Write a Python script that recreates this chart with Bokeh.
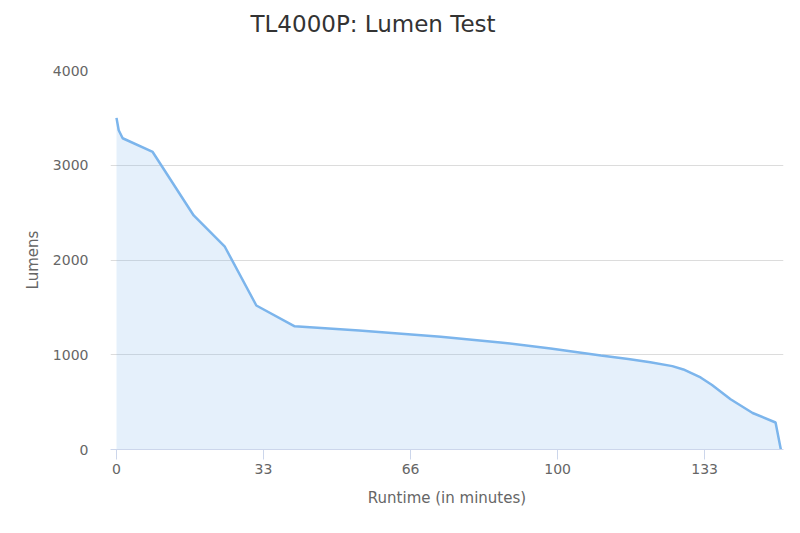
from bokeh.plotting import figure
from bokeh.models import Range1d, FixedTicker, ColumnDataSource, Title
from bokeh.embed import file_html
from bokeh.resources import INLINE

# Data
runtime_min = [0.0, 0.5, 1.4, 8.2, 17.5, 24.5, 31.7, 40.4, 55.0, 73.5, 87.0, 98.4,
               109.8, 116.0, 121.0, 126.0, 128.5, 132.4, 135.0, 139.2, 144.2, 149.4, 150.6]
lumens = [3500, 3370, 3285, 3140, 2470, 2145, 1520, 1300, 1255, 1190, 1130, 1066,
          992, 955, 920, 880, 845, 760, 680, 530, 385, 285, 0]
x_tick_values = [0, 33.33, 66.67, 100, 133.33]
x_tick_labels = ["0", "33", "66", "100", "133"]
y_tick_values = [0, 1000, 2000, 3000, 4000]

TITLE = "TL4000P: Lumen Test"
FONT = "DejaVu Sans"

p = figure(width=792, height=525, output_backend="svg", toolbar_location=None,
           x_range=Range1d(-1.36, 151.2), y_range=Range1d(0, 4000),
           min_border_left=110, min_border_right=9, min_border_top=70, min_border_bottom=76)

p.outline_line_color = None
p.background_fill_color = "white"
p.border_fill_color = "white"

# spacer panel next to the frame, then the real title above it
p.add_layout(Title(text=" ", text_font_size="14px", standoff=16), "above")
p.add_layout(Title(text=TITLE, text_font=FONT, text_font_size="23px",
                   text_font_style="normal", text_color="#333333",
                   align="left", offset=140, standoff=0), "above")

src = ColumnDataSource(dict(x=runtime_min, y=lumens))
p.varea(x="x", y1=0, y2="y", source=src, fill_color="#7cb5ec", fill_alpha=0.2)
p.line(x="x", y="y", source=src, line_color="#7cb5ec", line_width=2.5)

# Axes
xa = p.xaxis[0]
xa.ticker = FixedTicker(ticks=x_tick_values)
xa.major_label_overrides = {v: l for v, l in zip(x_tick_values, x_tick_labels)}
xa.axis_line_color = "#ccd6eb"
xa.major_tick_line_color = "#ccd6eb"
xa.major_tick_out = 10
xa.major_tick_in = 0
xa.minor_tick_line_color = None
xa.major_label_text_font = FONT
xa.major_label_text_font_size = "14px"
xa.major_label_text_color = "#666666"
xa.major_label_standoff = 4
xa.axis_label = "Runtime (in minutes)"
xa.axis_label_text_font = FONT
xa.axis_label_text_font_size = "15px"
xa.axis_label_text_font_style = "normal"
xa.axis_label_text_color = "#666666"
xa.axis_label_standoff = 12

ya = p.yaxis[0]
ya.ticker = FixedTicker(ticks=y_tick_values)
ya.axis_line_color = None
ya.major_tick_line_color = None
ya.minor_tick_line_color = None
ya.major_label_text_font = FONT
ya.major_label_text_font_size = "14px"
ya.major_label_text_color = "#666666"
ya.major_label_standoff = 16
ya.axis_label = "Lumens"
ya.axis_label_text_font = FONT
ya.axis_label_text_font_size = "15px"
ya.axis_label_text_font_style = "normal"
ya.axis_label_text_color = "#666666"
ya.axis_label_standoff = 8

p.xgrid.grid_line_color = None
p.ygrid.grid_line_color = "#dcdcdc"
p.ygrid.grid_line_width = 1

open("out.html", "w").write(file_html(p, INLINE))
